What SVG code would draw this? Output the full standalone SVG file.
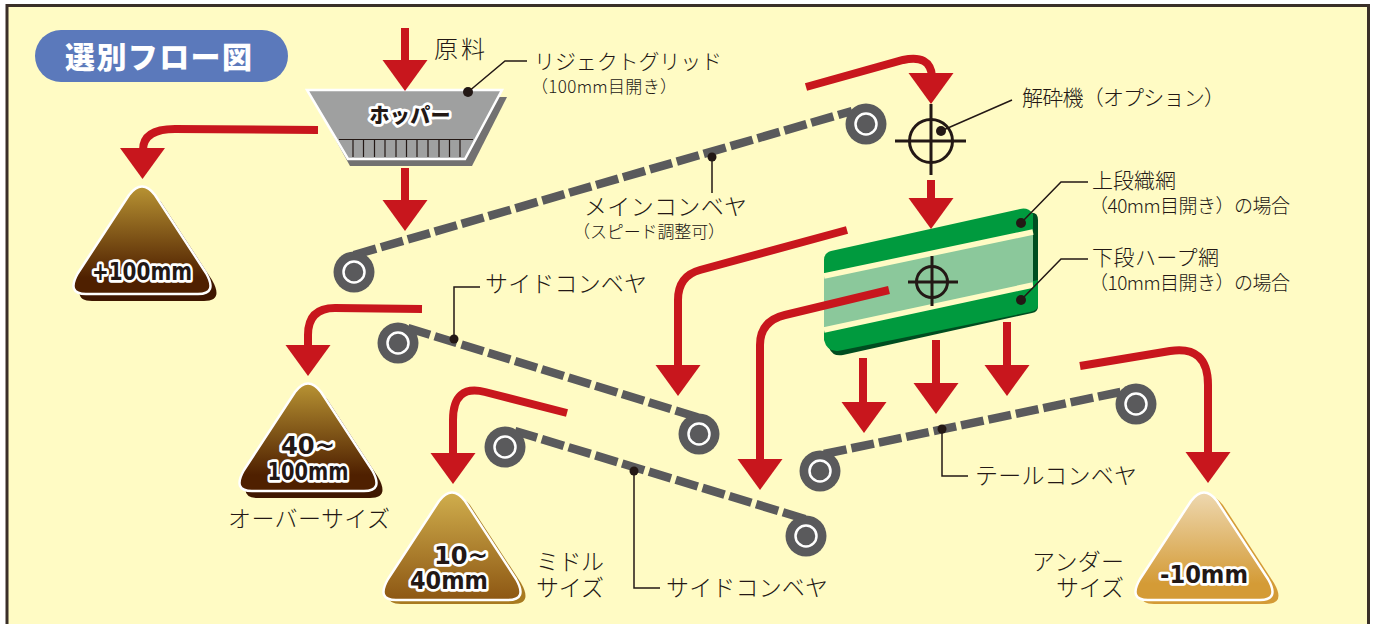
<svg xmlns="http://www.w3.org/2000/svg" width="1376" height="624" viewBox="0 0 1376 624">
<style>
text{font-family:"Noto Sans CJK JP","Noto Sans",sans-serif;fill:#231815}
.l{font-size:21px;font-weight:300}
.b{font-size:23px;font-weight:300}
.s{font-size:17px;font-weight:300}
.m{font-size:19px;font-weight:300}
.o{font-family:"DejaVu Sans",sans-serif;font-weight:700;font-size:24px;paint-order:stroke;stroke:#fff;stroke-width:5.500px;stroke-linejoin:round;text-anchor:middle}
.ar{fill:none;stroke:#c8161d;stroke-width:8}
.cv{fill:none;stroke:#5a5a5c;stroke-width:8.500;stroke-dasharray:23 5}
.ld{fill:none;stroke:#231815;stroke-width:1.500}
.dot{fill:#231815}
.wp{stroke:#fff;stroke-width:2.500;stroke-linejoin:round}
.x{fill:none;stroke:#231815;stroke-width:3}
</style>
<defs>
<polygon id="head" points="-22.500,0 22.500,0 0,31" fill="#c8161d"/>
<g id="roller"><circle r="20.500" fill="#5a5a5c"/><circle r="10.500" fill="#5a5a5c" stroke="#fff" stroke-width="2.500"/></g>
<path id="pile" d="M-13,8Q0,-9 13,8L64,86Q76,107 56,107L-56,107Q-76,107 -64,86Z"/>
<linearGradient id="g1" x1="0" y1="0" x2="0" y2="1"><stop offset="0" stop-color="#b89333"/><stop offset="0.85" stop-color="#4f2000"/></linearGradient>
<linearGradient id="g2" x1="0" y1="0" x2="0" y2="1"><stop offset="0" stop-color="#d0ae4d"/><stop offset="1" stop-color="#8d5713"/></linearGradient>
<linearGradient id="g3" x1="0" y1="0" x2="0" y2="1"><stop offset="0" stop-color="#eed8b0"/><stop offset="0.85" stop-color="#d49b36"/></linearGradient>
</defs>
<rect x="7" y="5.500" width="1361.500" height="640" fill="#fffbc4" stroke="#3a2f28" stroke-width="3"/>

<g id="title"><rect x="35" y="30" width="253" height="52" rx="26" fill="#5b79bb"/><text x="65" y="68" font-size="30" font-weight="900" style="fill:#fff" textLength="187">選別フロー図</text></g>

<g id="hopper">
<polygon points="312,97 507,97 472,166 350,166" fill="#727171"/>
<polygon points="307,90 502,90 465,159 348,159" fill="#9fa0a0" stroke="#fff" stroke-width="2.500"/>
<path d="M339,139.500H473M353,140V157M363.500,140V157M374.500,140V157M385,140V157M396,140V157M406.500,140V157M417,140V157M428,140V157M439,140V157M449.500,140V157M460,140V157" stroke="#231815" stroke-width="1.200" fill="none"/>
<text class="o" x="410" y="123" textLength="81" style="font-family:'Noto Sans CJK JP',sans-serif;font-weight:900;font-size:20px">ホッパー</text>
</g>

<g id="main-conveyor">
<path class="cv" d="M354,255L852,111"/>
<use href="#roller" x="354" y="272"/>
<use href="#roller" x="866" y="124"/>
</g>
<g id="side-conveyor-1">
<path class="cv" d="M408,328L700,418"/>
<use href="#roller" x="398" y="343"/>
<use href="#roller" x="699" y="434"/>
</g>
<g id="side-conveyor-2">
<path class="cv" d="M515,431L805,519"/>
<use href="#roller" x="505" y="447"/>
<use href="#roller" x="806" y="536"/>
</g>
<g id="tail-conveyor">
<path class="cv" d="M824,454L1130,390"/>
<use href="#roller" x="820" y="471"/>
<use href="#roller" x="1136" y="404"/>
</g>

<g id="crusher">
<circle class="x" cx="931" cy="141" r="21.500"/>
<path class="x" d="M931,104V175M895,141H966"/>
</g>

<g id="screen">
<path d="M834,256L1029,213Q1038,211 1038,220V306Q1038,312 1032,313L843,355Q833,357 829,348Z" fill="#004d20"/>
<path d="M824,260Q824,253 831,251L1020,209Q1028,207 1033,214V240L824,285Z" fill="#009a3e"/>
<path d="M824,325L1038,280V306Q1038,310 1030,312L838,351Q827,352 824,340Z" fill="#009a3e"/>
<polygon points="824,276 1033,232 1033,285 824,330" fill="#8bc89b"/>
<path d="M824,276L1033,232M824,330L1033,285" fill="none" stroke="#fffbc4" stroke-width="5.500"/>
<circle class="x" cx="932" cy="282" r="15.500"/>
<path class="x" d="M932,256V306M908,282H958"/>
</g>

<g id="connectors">
<path class="ar" d="M405,28V62M405,168V202M318,130L175,129Q143,129 143,150M806,87L903,60Q930,54 932,76M931,180V200M847,230L700,270Q678,276 678,300V368M889,290L785,315Q760,321 760,345V462M863,358V404M936,340V386M1007,322V368M1080,366L1170,351Q1208,345 1208,385V454M422,309L335,308Q308,308 308,335V348M567,413L485,392Q453,384 453,420V456"/>
<use href="#head" x="405" y="60"/>
<use href="#head" x="405" y="200"/>
<use href="#head" x="142.500" y="148"/>
<use href="#head" x="931" y="73"/>
<use href="#head" x="931" y="198"/>
<use href="#head" x="678" y="365"/>
<use href="#head" x="760" y="459"/>
<use href="#head" x="864" y="402"/>
<use href="#head" x="936" y="383"/>
<use href="#head" x="1007" y="365"/>
<use href="#head" x="1208" y="452"/>
<use href="#head" x="308" y="345"/>
<use href="#head" x="453" y="453"/>
<path class="ld" d="M468,92L505,61H527M941,131L1012,100M1021,223L1061,182H1088M1021,300L1061,259H1088M712,157V193M454,339V287H480M634,471V588H660M942,429V476H968"/>
<circle class="dot" cx="468" cy="92" r="5"/><circle class="dot" cx="941" cy="131" r="5"/><circle class="dot" cx="1021" cy="223" r="5"/><circle class="dot" cx="1021" cy="300" r="5"/><circle class="dot" cx="712" cy="157" r="4.500"/><circle class="dot" cx="454" cy="339" r="4.500"/><circle class="dot" cx="634" cy="471" r="4.500"/><circle class="dot" cx="942" cy="429" r="4.500"/>
</g>

<g id="pile-100">
<use href="#pile" x="148" y="194" fill="#3f1700"/>
<use href="#pile" x="142" y="187" fill="url(#g1)" class="wp"/>
<text class="o" x="142" y="280" textLength="100" lengthAdjust="spacingAndGlyphs">+100mm</text>
</g>
<g id="pile-40-100">
<use href="#pile" x="314" y="391" fill="#3f1700"/>
<use href="#pile" x="308" y="384" fill="url(#g1)" class="wp"/>
<text class="o" x="308" y="454" textLength="54" lengthAdjust="spacingAndGlyphs">40~</text>
<text class="o" x="308" y="480" textLength="81" lengthAdjust="spacingAndGlyphs">100mm</text>
</g>
<g id="pile-10-40">
<use href="#pile" x="457" y="497" fill="#a87a20"/>
<use href="#pile" x="452" y="493" fill="url(#g2)" class="wp"/>
<text class="o" x="461" y="564" textLength="54" lengthAdjust="spacingAndGlyphs">10~</text>
<text class="o" x="449" y="589" textLength="78" lengthAdjust="spacingAndGlyphs">40mm</text>
</g>
<g id="pile-10">
<use href="#pile" x="1210" y="497" fill="#d49b36"/>
<use href="#pile" x="1204" y="493" fill="url(#g3)" class="wp"/>
<text class="o" x="1204" y="583" textLength="88" lengthAdjust="spacingAndGlyphs">-10mm</text>
</g>

<g id="labels">
<text x="434" y="58" font-size="24" font-weight="300" textLength="51">原料</text>
<text class="l" x="534" y="69" textLength="188">リジェクトグリッド</text>
<text class="s" x="531" y="93" textLength="146">（100mm目開き）</text>
<text class="l" x="1022" y="105" textLength="203">解砕機（オプション）</text>
<text class="b" x="584" y="215" textLength="163">メインコンベヤ</text>
<text class="s" x="573" y="238" textLength="152">（スピード調整可）</text>
<text class="l" x="1092" y="188" textLength="84">上段織網</text>
<text class="m" x="1089" y="213" textLength="201">（40mm目開き）の場合</text>
<text class="l" x="1092" y="265" textLength="127">下段ハープ網</text>
<text class="m" x="1089" y="290" textLength="201">（10mm目開き）の場合</text>
<text class="b" x="485" y="292" textLength="162">サイドコンベヤ</text>
<text class="b" x="666" y="596" textLength="162">サイドコンベヤ</text>
<text class="b" x="975" y="484" textLength="162">テールコンベヤ</text>
<text class="b" x="228" y="527" textLength="162">オーバーサイズ</text>
<text class="b" x="536" y="570" textLength="68">ミドル</text>
<text class="b" x="536" y="596" textLength="68">サイズ</text>
<text class="b" x="1032" y="570" textLength="92">アンダー</text>
<text class="b" x="1056" y="596" textLength="68">サイズ</text>
</g>
</svg>
